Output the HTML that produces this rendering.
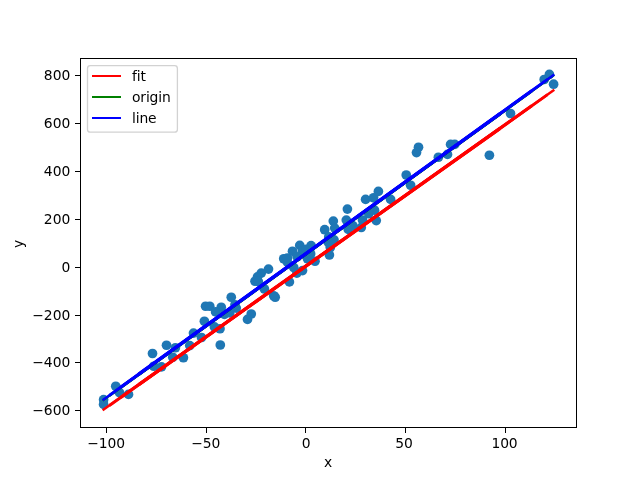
<!DOCTYPE html>
<html><head><meta charset="utf-8"><title>plot</title>
<style>html,body{margin:0;padding:0;background:#fff}svg{display:block}text{font-family:"DejaVu Sans","Liberation Sans",sans-serif;font-size:13.89px;fill:#000}</style></head><body>
<svg width="640" height="480" viewBox="0 0 640 480">
<rect width="640" height="480" fill="#fff"/>
<g fill="#1f77b4">
<circle cx="103.60" cy="399.70" r="4.86"/>
<circle cx="103.60" cy="404.40" r="4.86"/>
<circle cx="115.75" cy="386.25" r="4.86"/>
<circle cx="119.40" cy="392.50" r="4.86"/>
<circle cx="128.50" cy="394.40" r="4.86"/>
<circle cx="152.50" cy="353.50" r="4.86"/>
<circle cx="153.75" cy="366.25" r="4.86"/>
<circle cx="161.50" cy="366.90" r="4.86"/>
<circle cx="166.50" cy="345.25" r="4.86"/>
<circle cx="175.40" cy="347.75" r="4.86"/>
<circle cx="172.75" cy="357.25" r="4.86"/>
<circle cx="183.40" cy="357.75" r="4.86"/>
<circle cx="189.75" cy="345.60" r="4.86"/>
<circle cx="193.50" cy="333.10" r="4.86"/>
<circle cx="201.50" cy="337.50" r="4.86"/>
<circle cx="220.30" cy="345.00" r="4.86"/>
<circle cx="231.25" cy="297.25" r="4.86"/>
<circle cx="205.60" cy="306.25" r="4.86"/>
<circle cx="209.75" cy="306.25" r="4.86"/>
<circle cx="221.25" cy="307.25" r="4.86"/>
<circle cx="215.60" cy="311.90" r="4.86"/>
<circle cx="224.40" cy="314.40" r="4.86"/>
<circle cx="236.25" cy="308.10" r="4.86"/>
<circle cx="204.40" cy="321.25" r="4.86"/>
<circle cx="214.40" cy="326.90" r="4.86"/>
<circle cx="220.00" cy="328.75" r="4.86"/>
<circle cx="251.25" cy="314.00" r="4.86"/>
<circle cx="247.50" cy="319.40" r="4.86"/>
<circle cx="264.40" cy="289.00" r="4.86"/>
<circle cx="273.70" cy="295.80" r="4.86"/>
<circle cx="275.20" cy="297.20" r="4.86"/>
<circle cx="268.50" cy="269.10" r="4.86"/>
<circle cx="261.25" cy="273.10" r="4.86"/>
<circle cx="257.50" cy="276.90" r="4.86"/>
<circle cx="255.00" cy="281.25" r="4.86"/>
<circle cx="289.40" cy="281.90" r="4.86"/>
<circle cx="283.75" cy="258.75" r="4.86"/>
<circle cx="292.50" cy="251.25" r="4.86"/>
<circle cx="287.20" cy="261.90" r="4.86"/>
<circle cx="287.40" cy="258.00" r="4.86"/>
<circle cx="293.75" cy="267.50" r="4.86"/>
<circle cx="302.50" cy="270.60" r="4.86"/>
<circle cx="296.90" cy="273.10" r="4.86"/>
<circle cx="299.75" cy="245.40" r="4.86"/>
<circle cx="307.50" cy="258.75" r="4.86"/>
<circle cx="310.60" cy="253.75" r="4.86"/>
<circle cx="315.00" cy="261.25" r="4.86"/>
<circle cx="311.10" cy="245.60" r="4.86"/>
<circle cx="302.40" cy="250.90" r="4.86"/>
<circle cx="306.10" cy="249.30" r="4.86"/>
<circle cx="297.10" cy="256.75" r="4.86"/>
<circle cx="324.70" cy="229.70" r="4.86"/>
<circle cx="330.30" cy="247.50" r="4.86"/>
<circle cx="329.40" cy="255.00" r="4.86"/>
<circle cx="347.40" cy="209.10" r="4.86"/>
<circle cx="346.30" cy="220.10" r="4.86"/>
<circle cx="333.30" cy="221.10" r="4.86"/>
<circle cx="334.70" cy="228.10" r="4.86"/>
<circle cx="365.60" cy="199.40" r="4.86"/>
<circle cx="373.60" cy="197.80" r="4.86"/>
<circle cx="378.40" cy="191.40" r="4.86"/>
<circle cx="390.60" cy="199.40" r="4.86"/>
<circle cx="406.25" cy="175.00" r="4.86"/>
<circle cx="410.60" cy="185.25" r="4.86"/>
<circle cx="376.25" cy="220.60" r="4.86"/>
<circle cx="374.50" cy="210.20" r="4.86"/>
<circle cx="368.75" cy="213.75" r="4.86"/>
<circle cx="362.50" cy="220.00" r="4.86"/>
<circle cx="352.80" cy="225.70" r="4.86"/>
<circle cx="361.25" cy="227.50" r="4.86"/>
<circle cx="418.50" cy="147.30" r="4.86"/>
<circle cx="416.50" cy="152.60" r="4.86"/>
<circle cx="438.40" cy="157.25" r="4.86"/>
<circle cx="447.50" cy="154.40" r="4.86"/>
<circle cx="450.60" cy="144.40" r="4.86"/>
<circle cx="454.75" cy="144.40" r="4.86"/>
<circle cx="489.40" cy="155.25" r="4.86"/>
<circle cx="510.50" cy="113.50" r="4.86"/>
<circle cx="544.20" cy="79.50" r="4.86"/>
<circle cx="549.40" cy="74.40" r="4.86"/>
<circle cx="553.60" cy="84.20" r="4.86"/>
<circle cx="235.00" cy="304.80" r="4.86"/>
<circle cx="229.80" cy="312.80" r="4.86"/>
<circle cx="328.75" cy="236.90" r="4.86"/>
<circle cx="334.00" cy="239.90" r="4.86"/>
<circle cx="328.40" cy="242.50" r="4.86"/>
<circle cx="348.25" cy="229.40" r="4.86"/>
<circle cx="258.30" cy="281.60" r="4.86"/>
</g>
<line x1="102.60" y1="410.30" x2="554.30" y2="89.82" stroke="#ff0000" stroke-width="2.5"/>
<line x1="109.38" y1="405.49" x2="547.52" y2="94.63" stroke="#ff0000" stroke-width="2.85"/>
<line x1="120.67" y1="397.48" x2="531.71" y2="105.84" stroke="#ff0000" stroke-width="3.1"/>
<line x1="138.74" y1="384.66" x2="500.10" y2="128.28" stroke="#ff0000" stroke-width="3.35"/>
<line x1="102.60" y1="400.70" x2="554.30" y2="74.86" stroke="#008000" stroke-width="2.2"/>
<line x1="109.38" y1="395.81" x2="547.52" y2="79.75" stroke="#008000" stroke-width="2.5500000000000003"/>
<line x1="120.67" y1="387.67" x2="531.71" y2="91.15" stroke="#008000" stroke-width="2.8000000000000003"/>
<line x1="138.74" y1="374.63" x2="500.10" y2="113.96" stroke="#008000" stroke-width="3.0500000000000003"/>
<line x1="102.60" y1="400.30" x2="554.30" y2="74.46" stroke="#0000ff" stroke-width="2.5"/>
<line x1="109.38" y1="395.41" x2="547.52" y2="79.35" stroke="#0000ff" stroke-width="2.85"/>
<line x1="120.67" y1="387.27" x2="531.71" y2="90.75" stroke="#0000ff" stroke-width="3.1"/>
<line x1="138.74" y1="374.23" x2="500.10" y2="113.56" stroke="#0000ff" stroke-width="3.35"/>
<g stroke="#000" stroke-width="1" fill="none" shape-rendering="crispEdges">
<rect x="80.5" y="58.5" width="496" height="369"/>
<line x1="106.5" y1="428" x2="106.5" y2="432.5"/>
<line x1="206.5" y1="428" x2="206.5" y2="432.5"/>
<line x1="305.5" y1="428" x2="305.5" y2="432.5"/>
<line x1="405.5" y1="428" x2="405.5" y2="432.5"/>
<line x1="505.5" y1="428" x2="505.5" y2="432.5"/>
<line x1="75" y1="75.5" x2="80" y2="75.5"/>
<line x1="75" y1="123.5" x2="80" y2="123.5"/>
<line x1="75" y1="171.5" x2="80" y2="171.5"/>
<line x1="75" y1="219.5" x2="80" y2="219.5"/>
<line x1="75" y1="267.5" x2="80" y2="267.5"/>
<line x1="75" y1="315.5" x2="80" y2="315.5"/>
<line x1="75" y1="362.5" x2="80" y2="362.5"/>
<line x1="75" y1="410.5" x2="80" y2="410.5"/>
</g>
<text x="106.1" y="447.8" text-anchor="middle" style="letter-spacing:-0.15px">−100</text>
<text x="205.7" y="447.8" text-anchor="middle" style="letter-spacing:-0.15px">−50</text>
<text x="306.0" y="447.8" text-anchor="middle" style="letter-spacing:-0.15px">0</text>
<text x="403.90000000000003" y="447.8" text-anchor="middle" style="letter-spacing:-0.15px">50</text>
<text x="504.5" y="447.8" text-anchor="middle" style="letter-spacing:-0.15px">100</text>
<text x="70.3" y="80.4" text-anchor="end">800</text>
<text x="70.3" y="128.4" text-anchor="end">600</text>
<text x="70.3" y="176.4" text-anchor="end">400</text>
<text x="70.3" y="224.4" text-anchor="end">200</text>
<text x="70.3" y="272.4" text-anchor="end">0</text>
<text x="70.3" y="320.4" text-anchor="end">−200</text>
<text x="70.3" y="367.4" text-anchor="end">−400</text>
<text x="70.3" y="415.4" text-anchor="end">−600</text>
<text x="328" y="467" text-anchor="middle">x</text>
<text transform="translate(22.5,243.9) rotate(-90)" text-anchor="middle">y</text>
<rect x="87.5" y="65.6" width="89.9" height="66.6" rx="2.8" ry="2.8" fill="#fff" fill-opacity="0.8" stroke="#d2d2d2" stroke-width="1.3"/>
<rect x="92" y="75.0" width="29" height="2" fill="#ff0000"/>
<text x="132" y="80.6" style="letter-spacing:-0.15px">fit</text>
<rect x="92" y="96.0" width="29" height="2" fill="#008000"/>
<text x="132" y="101.6" style="letter-spacing:-0.15px">origin</text>
<rect x="92" y="117.0" width="29" height="2" fill="#0000ff"/>
<text x="132" y="122.6" style="letter-spacing:-0.15px">line</text>
</svg>
</body></html>
